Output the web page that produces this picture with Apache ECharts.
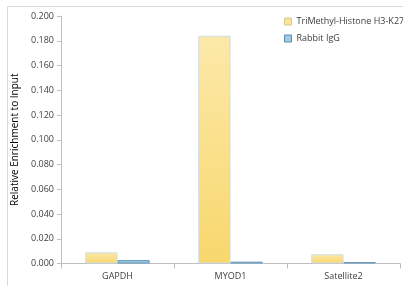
<!DOCTYPE html>
<html><head><meta charset="utf-8">
<script src="https://cdn.jsdelivr.net/npm/echarts@6/dist/echarts.min.js"></script>
<style>html,body{margin:0;padding:0;background:#fff}#c{width:403px;height:286px}</style>
</head><body><div id="c"></div>
<script>
const categories = ['GAPDH', 'MYOD1', 'Satellite2'];
const seriesNames = ['TriMethyl-Histone H3-K27', 'Rabbit IgG'];
const trimethylValues = [0.009, 0.184, 0.0074];
const iggValues = [0.0028, 0.0015, 0.0012];
const yMin = 0, yMax = 0.2, yStep = 0.02;

const font = 'Open Sans';
const chart = echarts.init(document.getElementById('c'), null, {renderer: 'canvas'});
const yellow = new echarts.graphic.LinearGradient(0, 0, 0, 1, [
  {offset: 0, color: '#fce9a9'}, {offset: 1, color: '#f8d76d'}]);
const blue = new echarts.graphic.LinearGradient(0, 0, 0, 1, [
  {offset: 0, color: '#a9d0e6'}, {offset: 1, color: '#8fbfdc'}]);
chart.setOption({
  animation: false,
  textStyle: {fontFamily: font},
  graphic: [{type: 'rect', shape: {x: 7.5, y: 6.5, width: 420, height: 300},
    style: {fill: 'none', stroke: '#d9d9d9', lineWidth: 1}, silent: true}],
  legend: {
    orient: 'vertical', left: 279, top: 12, itemWidth: 7, itemHeight: 7, itemGap: 8,
    textStyle: {fontFamily: font, fontSize: 9, color: '#404040'},
    data: [
      {name: seriesNames[0], icon: 'rect', itemStyle: {color: '#fbe39a', borderColor: '#d8c98a', borderWidth: 1}},
      {name: seriesNames[1], icon: 'rect', itemStyle: {color: '#9fcbe4', borderColor: '#5f8fb0', borderWidth: 1}}
    ]
  },
  grid: {left: 61, right: 3, top: 16, bottom: 22.5, containLabel: false},
  xAxis: {
    type: 'category', data: categories,
    axisLine: {lineStyle: {color: '#bfbfbf'}},
    axisTick: {show: true, length: 5, lineStyle: {color: '#bfbfbf'}},
    axisLabel: {color: '#404040', fontSize: 9, fontFamily: font, margin: 8}
  },
  yAxis: {
    type: 'value', min: yMin, max: yMax, interval: yStep,
    name: 'Relative Enrichment to Input', nameLocation: 'middle', nameGap: 33,
    nameTextStyle: {color: '#000', fontSize: 10, fontFamily: font},
    axisLine: {show: true, lineStyle: {color: '#bfbfbf'}},
    axisTick: {show: true, length: 4, lineStyle: {color: '#bfbfbf'}},
    splitLine: {show: false},
    axisLabel: {color: '#404040', fontSize: 9, fontFamily: font, margin: 7,
      formatter: v => v.toFixed(3)}
  },
  series: [
    {name: seriesNames[0], type: 'bar', data: trimethylValues, barGap: '0%', barCategoryGap: '43%',
      itemStyle: {color: yellow, borderColor: '#cfdbe0', borderWidth: 1}},
    {name: seriesNames[1], type: 'bar', data: iggValues,
      itemStyle: {color: blue, borderColor: '#6b9cbd', borderWidth: 1}}
  ]
});
</script></body></html>
